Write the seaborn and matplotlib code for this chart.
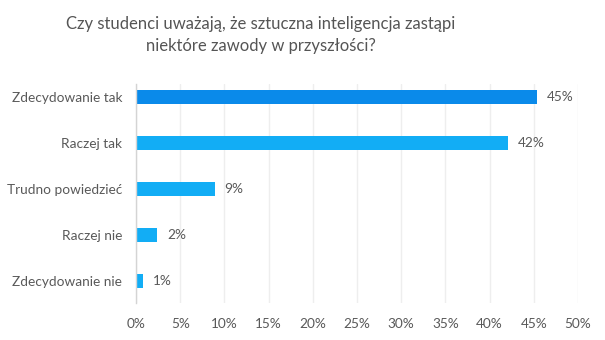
import matplotlib
matplotlib.use("Agg")
import matplotlib.pyplot as plt
import seaborn as sns
import pandas as pd

categories = ["Zdecydowanie tak", "Raczej tak", "Trudno powiedzieć", "Raczej nie", "Zdecydowanie nie"]
values = [45.4, 42.1, 8.9, 2.4, 0.8]
value_labels = ["45%", "42%", "9%", "2%", "1%"]
xticks = [0, 5, 10, 15, 20, 25, 30, 35, 40, 45, 50]
xtick_labels = [f"{t}%" for t in xticks]
title = "Czy studenci uważają, że sztuczna inteligencja zastąpi\nniektóre zawody w przyszłości?"
colors = ["#0a8aea", "#12adf5", "#12adf5", "#12adf5", "#12adf5"]

sns.set_theme(style="white")
plt.rcParams["font.family"] = ["Lato", "DejaVu Sans"]

df = pd.DataFrame({"cat": categories, "val": values})

fig = plt.figure(figsize=(6.05, 3.40), dpi=100)
ax = fig.add_axes([136/605, 1-303/340, (578-136)/605, (303-84)/340])
sns.barplot(data=df, x="val", y="cat", hue="cat", palette=colors, legend=False,
            orient="h", width=0.3, ax=ax, edgecolor="none", saturation=1)

ax.set_xlim(0, 50)
ax.set_ylim(4.48, -0.29)
ax.set_xticks(xticks)
ax.set_xticklabels(xtick_labels)
ax.set_xlabel("")
ax.set_ylabel("")
for s in ["top", "right", "bottom"]:
    ax.spines[s].set_visible(False)
ax.spines["left"].set_color("#d4d4d4")
ax.spines["left"].set_linewidth(1)
ax.xaxis.grid(True, color="#eeeeee", linewidth=1)
ax.set_axisbelow(True)
ax.tick_params(axis="both", length=0, labelsize=9.8, colors="#595959")
ax.tick_params(axis="x", pad=11)
ax.tick_params(axis="y", pad=10)

for i, (v, lab) in enumerate(zip(values, value_labels)):
    ax.annotate(lab, (v, i), xytext=(7, 0), textcoords="offset points",
                va="center", ha="left", fontsize=9.8, color="#595959")

fig.text(261/605, 1-35/340, title, ha="center", va="center", fontsize=12,
         color="#555555", linespacing=1.45)

fig.savefig("out.png", dpi=100, facecolor="white")
